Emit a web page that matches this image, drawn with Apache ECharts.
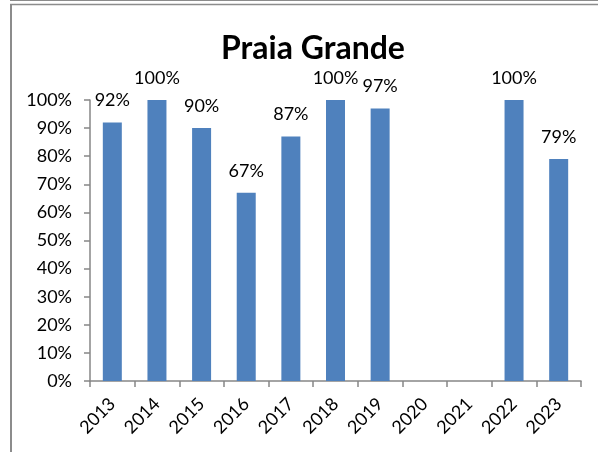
<!DOCTYPE html>
<html>
<head>
<meta charset="utf-8">
<script src="https://cdn.jsdelivr.net/npm/echarts@6/dist/echarts.min.js"></script>
<style>
  html, body { margin: 0; padding: 0; background: #fff; }
  #root1 { width: 598px; height: 452px; }
</style>
</head>
<body>
<div id="root1"></div>
<script>
const years = ['2013', '2014', '2015', '2016', '2017', '2018', '2019', '2020', '2021', '2022', '2023'];
const shares = [92, 100, 90, 67, 87, 100, 97, null, null, 100, 79];
const yTicks = [0, 10, 20, 30, 40, 50, 60, 70, 80, 90, 100];

const chartDom = document.getElementById('root1');
const myChart = echarts.init(chartDom);

const axisGray = '#868686';
const frameGray = '#8c8c8c';

const option = {
  animation: false,
  textStyle: { fontFamily: 'Lato' },
  title: {
    text: 'Praia Grande',
    left: 308,
    textAlign: 'center',
    top: 28,
    textStyle: { fontFamily: 'Lato', fontWeight: 'bold', fontSize: 32, color: '#000' }
  },
  graphic: [
    { type: 'line', shape: { x1: 10, y1: 0.5, x2: 598, y2: 0.5 }, style: { stroke: frameGray, lineWidth: 1 } },
    { type: 'line', shape: { x1: 10, y1: 4.5, x2: 598, y2: 4.5 }, style: { stroke: frameGray, lineWidth: 1.5 } },
    { type: 'line', shape: { x1: 11, y1: 4, x2: 11, y2: 452 }, style: { stroke: frameGray, lineWidth: 2 } }
  ],
  grid: { left: 90, right: 17, top: 100, bottom: 71, containLabel: false },
  xAxis: {
    type: 'category',
    data: years,
    axisLine: { lineStyle: { color: axisGray, width: 1.5 } },
    axisTick: { show: true, length: 6, lineStyle: { color: axisGray, width: 1.5 } },
    axisLabel: { rotate: 45, fontSize: 18, color: '#000', margin: 20, interval: 0 }
  },
  yAxis: {
    type: 'value',
    min: yTicks[0],
    max: yTicks[yTicks.length - 1],
    interval: 10,
    splitLine: { show: false },
    axisLine: { show: true, lineStyle: { color: axisGray, width: 1.5 } },
    axisTick: { show: true, length: 6, lineStyle: { color: axisGray, width: 1.5 } },
    axisLabel: { fontSize: 18, color: '#000', margin: 18, formatter: '{value}%' }
  },
  series: [
    {
      type: 'bar',
      data: shares,
      barWidth: 19,
      itemStyle: { color: '#4F81BD' },
      label: {
        show: true,
        position: 'top',
        distance: 13,
        fontSize: 18,
        color: '#000',
        formatter: p => (p.value == null ? '' : p.value + '%')
      }
    }
  ]
};

myChart.setOption(option);
</script>
</body>
</html>
